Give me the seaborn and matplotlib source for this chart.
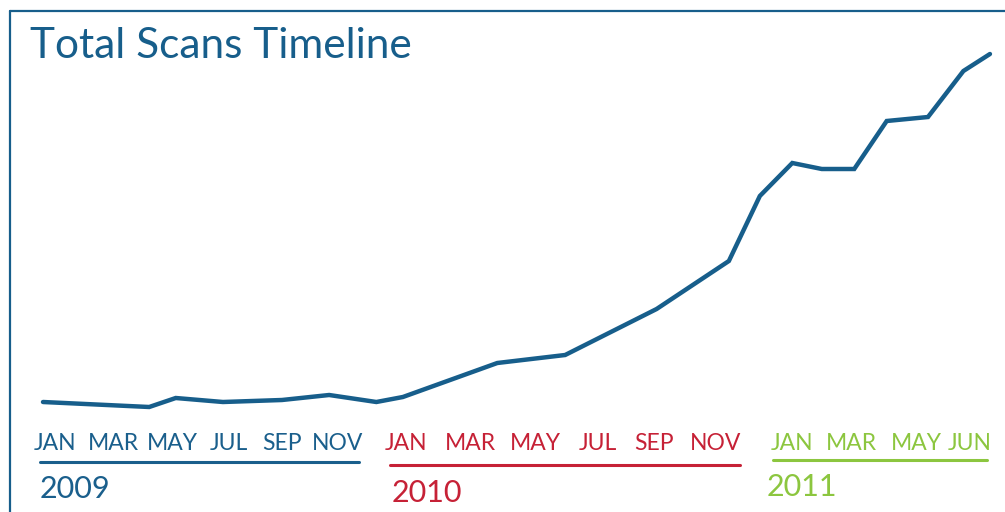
import numpy as np
import pandas as pd
import seaborn as sns
import matplotlib.pyplot as plt
from matplotlib.lines import Line2D

# time position in months since Jan 2009 (irregular sampling), scan index
months = [0.0, 3.6, 4.5, 6.1, 8.1, 9.7, 11.3, 12.2, 15.4, 17.7,
          20.8, 23.25, 24.3, 25.4, 26.4, 27.5, 28.6, 30.0, 31.2, 32.1]
scans = [18, 13, 22, 18, 20, 25, 18, 23, 57, 65,
         111, 159, 224, 257, 251, 251, 299, 303, 349, 366]

years = ['2009', '2010', '2011']
year_months = [['JAN', 'MAR', 'MAY', 'JUL', 'SEP', 'NOV'],
               ['JAN', 'MAR', 'MAY', 'JUL', 'SEP', 'NOV'],
               ['JAN', 'MAR', 'MAY', 'JUN']]
label_pos = [[0.4, 2.4, 4.4, 6.3, 8.1, 10.0],
             [12.3, 14.5, 16.7, 18.8, 20.7, 22.8],
             [25.4, 27.4, 29.6, 31.4]]
year_colors = ['#1a5f8c', '#c62136', '#8cc63f']

BLUE = '#175e8b'

sns.set_style('white')
plt.rcParams['font.family'] = ['Lato', 'DejaVu Sans']

W, H = 1005, 512
fig = plt.figure(figsize=(W / 100, H / 100), dpi=100)
ax = fig.add_axes([0, 0, 1, 1])

df = pd.DataFrame({'month': months, 'scans': scans})
sns.lineplot(data=df, x='month', y='scans', ax=ax, color=BLUE, linewidth=3.2,
             solid_joinstyle='miter')

# pixel mapping for layout
ax.set_xlim((0 - 43) / 29.5, (W - 43) / 29.5)
ax.set_ylim(420 - H, 420)
ax.set_axis_off()


def fy(py):
    return 1 - py / H


# frame (left and top)
fig.add_artist(Line2D([9.5 / W, 9.5 / W], [0, fy(10.5)], color=BLUE, lw=1.6))
fig.add_artist(Line2D([9.5 / W, 1], [fy(10.5), fy(10.5)], color=BLUE, lw=1.6))

fig.text(30 / W, fy(58), 'Total Scans Timeline', color=BLUE, fontsize=30.5,
         ha='left', va='baseline')

tr = ax.get_xaxis_transform()
under_x = [(40, 359), (390, 740), (773, 987)]
under_y = [462, 465, 460]
year_xy = [(40, 489), (392, 493), (767, 487)]
for i, yr in enumerate(years):
    c = year_colors[i]
    for name, pos in zip(year_months[i], label_pos[i]):
        ax.text(pos, fy(443), name, transform=tr, color=c, fontsize=16.5,
                ha='center', va='center')
    x0, x1 = under_x[i]
    fig.add_artist(Line2D([x0 / W, x1 / W], [fy(under_y[i])] * 2, color=c, lw=2.2))
    fig.text(year_xy[i][0] / W, fy(year_xy[i][1]), yr, color=c, fontsize=22,
             ha='left', va='center')

fig.savefig('out.png', dpi=100)
